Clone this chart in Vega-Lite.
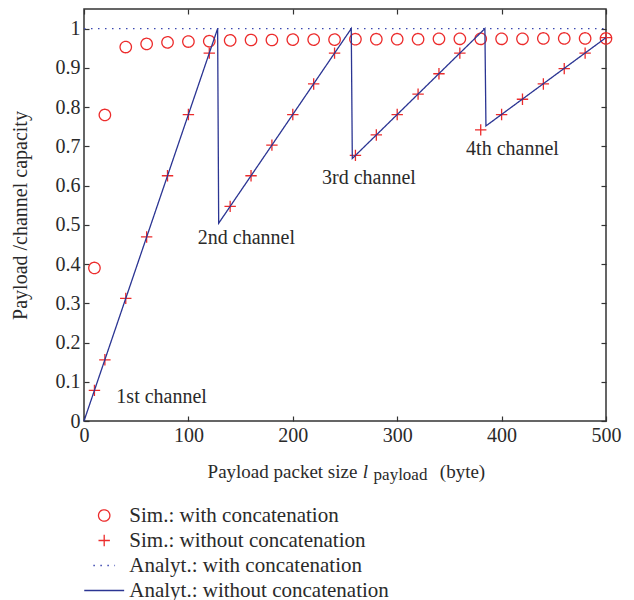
{
  "$schema": "https://vega.github.io/schema/vega-lite/v6.json",
  "width": 522,
  "height": 412,
  "padding": {"left": 84, "top": 9, "right": 28, "bottom": 179},
  "autosize": {"type": "none"},
  "background": "white",
  "config": {
    "font": "Liberation Serif",
    "view": {"stroke": "#333333", "strokeWidth": 1.5},
    "axis": {
      "grid": false,
      "domain": false,
      "tickColor": "#333333",
      "tickWidth": 1.2,
      "tickSize": -5,
      "labelFont": "Liberation Serif",
      "labelFontSize": 20,
      "labelColor": "#2a2a2a",
      "titleFont": "Liberation Serif",
      "titleFontSize": 19,
      "titleFontWeight": "normal",
      "titleColor": "#2a2a2a"
    },
    "legend": {
      "labelFont": "Liberation Serif",
      "labelFontSize": 21,
      "labelColor": "#2a2a2a",
      "labelLimit": 400
    }
  },
  "datasets": {
    "sim": [
      {"series": "Sim.: with concatenation", "size": 10, "ratio": 0.39},
      {"series": "Sim.: with concatenation", "size": 20, "ratio": 0.78},
      {"series": "Sim.: with concatenation", "size": 40, "ratio": 0.953},
      {"series": "Sim.: with concatenation", "size": 60, "ratio": 0.961},
      {"series": "Sim.: with concatenation", "size": 80, "ratio": 0.965},
      {"series": "Sim.: with concatenation", "size": 100, "ratio": 0.967},
      {"series": "Sim.: with concatenation", "size": 120, "ratio": 0.968},
      {"series": "Sim.: with concatenation", "size": 140, "ratio": 0.97},
      {"series": "Sim.: with concatenation", "size": 160, "ratio": 0.971},
      {"series": "Sim.: with concatenation", "size": 180, "ratio": 0.971},
      {"series": "Sim.: with concatenation", "size": 200, "ratio": 0.972},
      {"series": "Sim.: with concatenation", "size": 220, "ratio": 0.972},
      {"series": "Sim.: with concatenation", "size": 240, "ratio": 0.972},
      {"series": "Sim.: with concatenation", "size": 260, "ratio": 0.973},
      {"series": "Sim.: with concatenation", "size": 280, "ratio": 0.973},
      {"series": "Sim.: with concatenation", "size": 300, "ratio": 0.973},
      {"series": "Sim.: with concatenation", "size": 320, "ratio": 0.973},
      {"series": "Sim.: with concatenation", "size": 340, "ratio": 0.974},
      {"series": "Sim.: with concatenation", "size": 360, "ratio": 0.974},
      {"series": "Sim.: with concatenation", "size": 380, "ratio": 0.974},
      {"series": "Sim.: with concatenation", "size": 400, "ratio": 0.974},
      {"series": "Sim.: with concatenation", "size": 420, "ratio": 0.974},
      {"series": "Sim.: with concatenation", "size": 440, "ratio": 0.975},
      {"series": "Sim.: with concatenation", "size": 460, "ratio": 0.975},
      {"series": "Sim.: with concatenation", "size": 480, "ratio": 0.975},
      {"series": "Sim.: with concatenation", "size": 500, "ratio": 0.975},
      {"series": "Sim.: without concatenation", "size": 10, "ratio": 0.078},
      {"series": "Sim.: without concatenation", "size": 20, "ratio": 0.156},
      {"series": "Sim.: without concatenation", "size": 40, "ratio": 0.3125},
      {"series": "Sim.: without concatenation", "size": 60, "ratio": 0.469},
      {"series": "Sim.: without concatenation", "size": 80, "ratio": 0.625},
      {"series": "Sim.: without concatenation", "size": 100, "ratio": 0.781},
      {"series": "Sim.: without concatenation", "size": 120, "ratio": 0.9375},
      {"series": "Sim.: without concatenation", "size": 140, "ratio": 0.547},
      {"series": "Sim.: without concatenation", "size": 160, "ratio": 0.625},
      {"series": "Sim.: without concatenation", "size": 180, "ratio": 0.703},
      {"series": "Sim.: without concatenation", "size": 200, "ratio": 0.781},
      {"series": "Sim.: without concatenation", "size": 220, "ratio": 0.859},
      {"series": "Sim.: without concatenation", "size": 240, "ratio": 0.9375},
      {"series": "Sim.: without concatenation", "size": 260, "ratio": 0.677},
      {"series": "Sim.: without concatenation", "size": 280, "ratio": 0.729},
      {"series": "Sim.: without concatenation", "size": 300, "ratio": 0.781},
      {"series": "Sim.: without concatenation", "size": 320, "ratio": 0.833},
      {"series": "Sim.: without concatenation", "size": 340, "ratio": 0.885},
      {"series": "Sim.: without concatenation", "size": 360, "ratio": 0.9375},
      {"series": "Sim.: without concatenation", "size": 380, "ratio": 0.742},
      {"series": "Sim.: without concatenation", "size": 400, "ratio": 0.781},
      {"series": "Sim.: without concatenation", "size": 420, "ratio": 0.82},
      {"series": "Sim.: without concatenation", "size": 440, "ratio": 0.859},
      {"series": "Sim.: without concatenation", "size": 460, "ratio": 0.898},
      {"series": "Sim.: without concatenation", "size": 480, "ratio": 0.9375},
      {"series": "Sim.: without concatenation", "size": 500, "ratio": 0.977}
    ],
    "analyt": [
      {"series": "Analyt.: with concatenation", "size": 0, "ratio": 1, "ord": 1},
      {"series": "Analyt.: with concatenation", "size": 500, "ratio": 1, "ord": 2},
      {"series": "Analyt.: without concatenation", "size": 0, "ratio": 0, "ord": 1},
      {"series": "Analyt.: without concatenation", "size": 128, "ratio": 1, "ord": 2},
      {"series": "Analyt.: without concatenation", "size": 129, "ratio": 0.504, "ord": 3},
      {"series": "Analyt.: without concatenation", "size": 256, "ratio": 1, "ord": 4},
      {"series": "Analyt.: without concatenation", "size": 257, "ratio": 0.669, "ord": 5},
      {"series": "Analyt.: without concatenation", "size": 384, "ratio": 1, "ord": 6},
      {"series": "Analyt.: without concatenation", "size": 385, "ratio": 0.752, "ord": 7},
      {"series": "Analyt.: without concatenation", "size": 500, "ratio": 0.977, "ord": 8}
    ],
    "notes": [
      {"size": 31, "ratio": 0.047, "label": "1st channel"},
      {"size": 109, "ratio": 0.45, "label": "2nd channel"},
      {"size": 228, "ratio": 0.603, "label": "3rd channel"},
      {"size": 366, "ratio": 0.679, "label": "4th channel"}
    ]
  },
  "layer": [
    {
      "data": {"name": "sim"},
      "mark": {"type": "point", "filled": false, "strokeWidth": 1.3, "opacity": 1},
      "encoding": {
        "x": {"field": "size", "type": "quantitative", "scale": {"domain": [0, 500], "nice": false, "zero": false},
              "axis": {"orient": "bottom", "values": [0, 100, 200, 300, 400, 500], "labelPadding": 9, "labelFlush": false,
                       "title": "Payload packet size", "titleX": 198, "titleY": 56, "titleAlign": "center", "titleBaseline": "alphabetic"}},
        "y": {"field": "ratio", "type": "quantitative", "scale": {"domain": [0, 1.05], "nice": false, "zero": false},
              "axis": {"orient": "left", "values": [0, 0.1, 0.2, 0.3, 0.4, 0.5, 0.6, 0.7, 0.8, 0.9, 1], "format": "~g", "labelPadding": 9, "labelFlush": false,
                       "title": "Payload /channel capacity", "titleFontSize": 20, "titleX": -58, "titleAlign": "center", "titleBaseline": "alphabetic"}},
        "color": {"field": "series", "type": "nominal",
                  "scale": {"domain": ["Sim.: with concatenation", "Sim.: without concatenation", "Analyt.: with concatenation", "Analyt.: without concatenation"],
                            "range": ["#ec2b2b", "#ec2b2b", "#3b47b0", "#2b3593"]},
                  "legend": {"title": null, "orient": "none", "legendX": 9.7, "legendY": 496, "symbolSize": 130, "symbolStrokeWidth": 1.3,
                             "labelFont": "Liberation Serif", "labelFontSize": 21, "labelColor": "#2a2a2a", "labelLimit": 400,
                             "labelOffset": 14.6, "rowPadding": 3, "padding": 0, "symbolFillColor": "transparent"}},
        "shape": {"field": "series", "type": "nominal",
                  "scale": {"domain": ["Sim.: with concatenation", "Sim.: without concatenation", "Analyt.: with concatenation", "Analyt.: without concatenation"],
                            "range": ["circle", "M-1,0L1,0M0,-1L0,1", "M-1.9,0L1.9,0", "M-3.5,0L3.5,0"]},
                  "legend": {"title": null, "orient": "none", "legendX": 9.7, "legendY": 496, "symbolSize": 130, "symbolStrokeWidth": 1.3,
                             "labelFont": "Liberation Serif", "labelFontSize": 21, "labelColor": "#2a2a2a", "labelLimit": 400,
                             "labelOffset": 14.6, "rowPadding": 3, "padding": 0, "symbolFillColor": "transparent"}},
        "strokeDash": {"field": "series", "type": "nominal",
                  "scale": {"domain": ["Sim.: with concatenation", "Sim.: without concatenation", "Analyt.: with concatenation", "Analyt.: without concatenation"],
                            "range": [[1, 0], [1, 0], [1.5, 5.5], [1, 0]]},
                  "legend": {"title": null, "orient": "none", "legendX": 9.7, "legendY": 496, "symbolSize": 130, "symbolStrokeWidth": 1.3,
                             "labelFont": "Liberation Serif", "labelFontSize": 21, "labelColor": "#2a2a2a", "labelLimit": 400,
                             "labelOffset": 14.6, "rowPadding": 3, "padding": 0, "symbolFillColor": "transparent"}},
        "size": {"value": 130}
      }
    },
    {
      "data": {"name": "analyt"},
      "mark": {"type": "line", "strokeWidth": 1.3},
      "encoding": {
        "x": {"field": "size", "type": "quantitative", "axis": {"orient": "top", "values": [0, 100, 200, 300, 400, 500], "labels": false, "title": null}},
        "y": {"field": "ratio", "type": "quantitative", "axis": {"orient": "right", "values": [0, 0.1, 0.2, 0.3, 0.4, 0.5, 0.6, 0.7, 0.8, 0.9, 1], "labels": false, "title": null}},
        "color": {"field": "series", "type": "nominal"},
        "strokeDash": {"field": "series", "type": "nominal"},
        "detail": {"field": "series"},
        "order": {"field": "ord", "type": "quantitative"}
      }
    },
    {
      "data": {"name": "notes"},
      "mark": {"type": "text", "align": "left", "baseline": "alphabetic", "fontSize": 20, "font": "Liberation Serif", "color": "#2a2a2a"},
      "encoding": {
        "x": {"field": "size", "type": "quantitative", "axis": {"orient": "bottom", "ticks": false, "labels": false, "title": "l", "titleFontStyle": "italic", "titleX": 281, "titleY": 56, "titleAlign": "center", "titleBaseline": "alphabetic"}},
        "y": {"field": "ratio", "type": "quantitative", "axis": null},
        "text": {"field": "label"}
      }
    },
    {
      "data": {"values": [{"size": 0, "ratio": 0}]},
      "mark": {"type": "point", "opacity": 0},
      "encoding": {
        "x": {"field": "size", "type": "quantitative", "axis": {"orient": "bottom", "ticks": false, "labels": false, "title": "payload", "titleFontSize": 17, "titleX": 316, "titleY": 58, "titleAlign": "center", "titleBaseline": "alphabetic"}},
        "y": {"field": "ratio", "type": "quantitative", "axis": null}
      }
    },
    {
      "data": {"values": [{"size": 0, "ratio": 0}]},
      "mark": {"type": "point", "opacity": 0},
      "encoding": {
        "x": {"field": "size", "type": "quantitative", "axis": {"orient": "bottom", "ticks": false, "labels": false, "title": "(byte)", "titleX": 378, "titleY": 56, "titleAlign": "center", "titleBaseline": "alphabetic"}},
        "y": {"field": "ratio", "type": "quantitative", "axis": null}
      }
    }
  ],
  "resolve": {"axis": {"x": "independent", "y": "independent"}}
}
